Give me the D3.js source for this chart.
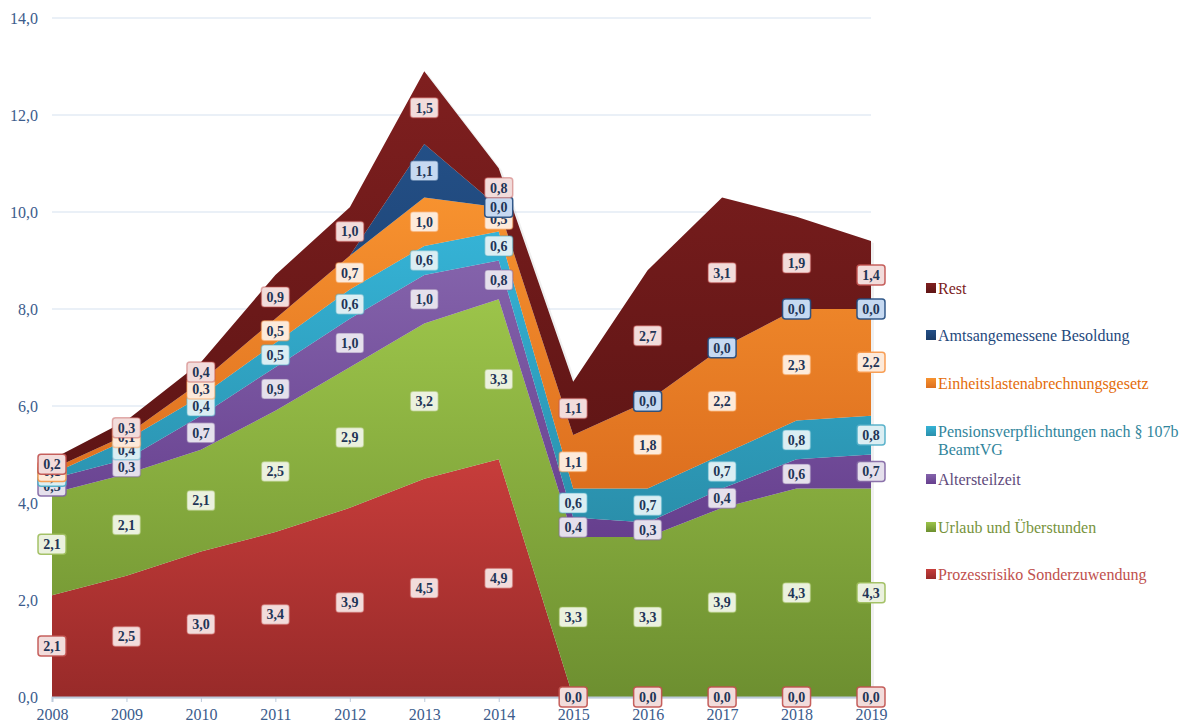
<!DOCTYPE html>
<html>
<head>
<meta charset="utf-8">
<title>Rückstellungen</title>
<script src="https://cdn.jsdelivr.net/npm/d3@7"></script>
<style>
  body { margin: 0; background: #fff; }
  svg { display: block; }
  .axis text { font: 16px "Liberation Serif", serif; fill: #3b5c8c; }
  .lbl text { font: bold 14px "Liberation Serif", serif; fill: #1f3556; }
  .legend text { font: 16px "Liberation Serif", serif; }
</style>
</head>
<body>
<svg width="1182" height="725"></svg>
<script>
var years = [2008, 2009, 2010, 2011, 2012, 2013, 2014, 2015, 2016, 2017, 2018, 2019];
var yTicks = [0, 2, 4, 6, 8, 10, 12, 14];

// values per series, bottom to top (null = no value / no label)
var prozess  = [2.1, 2.5, 3.0, 3.4, 3.9, 4.5, 4.9, 0.0, 0.0, 0.0, 0.0, 0.0];
var urlaub   = [2.1, 2.1, 2.1, 2.5, 2.9, 3.2, 3.3, 3.3, 3.3, 3.9, 4.3, 4.3];
var alters   = [0.3, 0.3, 0.7, 0.9, 1.0, 1.0, 0.8, 0.4, 0.3, 0.4, 0.6, 0.7];
var pension  = [0.1, 0.4, 0.4, 0.5, 0.6, 0.6, 0.6, 0.6, 0.7, 0.7, 0.8, 0.8];
var einheit  = [0.1, 0.1, 0.3, 0.5, 0.7, 1.0, 0.5, 1.1, 1.8, 2.2, 2.3, 2.2];
var amts     = [null, null, null, null, null, 1.1, 0.0, null, 0.0, 0.0, 0.0, 0.0];
var rest     = [0.2, 0.3, 0.4, 0.9, 1.0, 1.5, 0.8, 1.1, 2.7, 3.1, 1.9, 1.4];

var seriesNames = ["Prozessrisiko Sonderzuwendung", "Urlaub und Überstunden", "Altersteilzeit",
  "Pensionsverpflichtungen nach § 107b BeamtVG", "Einheitslastenabrechnungsgesetz",
  "Amtsangemessene Besoldung", "Rest"];
var seriesValues = [prozess, urlaub, alters, pension, einheit, amts, rest];

var colors = [
  {top: "#c73d3b", bot: "#982a29", tint: "#f2dcdb", edge: "#c0504d", text: "#c0504d"},
  {top: "#9cc44a", bot: "#6d8f30", tint: "#ebf1de", edge: "#9bbb59", text: "#77933c"},
  {top: "#8463ab", bot: "#663f8e", tint: "#e5e0ec", edge: "#8064a2", text: "#604a7b"},
  {top: "#35b3d6", bot: "#2a8fab", tint: "#dbeef3", edge: "#4bacc6", text: "#31859c"},
  {top: "#f7922f", bot: "#dd6f1f", tint: "#fdeada", edge: "#f79646", text: "#e46c0a"},
  {top: "#234f86", bot: "#1a3c68", tint: "#c6d9f1", edge: "#1f497d", text: "#1f497d"},
  {top: "#7f1f1f", bot: "#5e1515", tint: "#f2dcdb", edge: "#c0504d", text: "#7b1c1c"}
];

var svg = d3.select("svg");

var x = d3.scaleLinear().domain([2008, 2019]).range([52, 871]);
var y = d3.scaleLinear().domain([0, 14]).range([697, 18]);

var table = years.map(function(yr, i) {
  var row = {year: yr};
  seriesNames.forEach(function(n, k) { row[n] = seriesValues[k][i]; });
  return row;
});

var stacked = d3.stack()
  .keys(seriesNames)
  .value(function(d, key) { return d[key] || 0; })(table);

// gradients
var defs = svg.append("defs");
colors.forEach(function(c, k) {
  var g = defs.append("linearGradient").attr("id", "grad" + k)
    .attr("x1", 0).attr("y1", 0).attr("x2", 0).attr("y2", 1);
  g.append("stop").attr("offset", "0%").attr("stop-color", c.top);
  g.append("stop").attr("offset", "100%").attr("stop-color", c.bot);
});

// gridlines
svg.append("g")
  .selectAll("line")
  .data(yTicks.slice(1))
  .enter().append("line")
    .attr("x1", 52).attr("x2", 871)
    .attr("y1", function(d) { return y(d); })
    .attr("y2", function(d) { return y(d); })
    .attr("stroke", "#d6e2f0")
    .attr("stroke-width", 1.2);

var area = d3.area()
  .x(function(d) { return x(d.data.year); })
  .y0(function(d) { return y(d[0]); })
  .y1(function(d) { return y(d[1]); });

// faint shadow
svg.append("g")
  .selectAll("path")
  .data(stacked)
  .enter().append("path")
    .attr("d", area)
    .attr("transform", "translate(3,2)")
    .attr("fill", "#000")
    .attr("opacity", 0.06);

svg.append("g")
  .selectAll("path")
  .data(stacked)
  .enter().append("path")
    .attr("d", area)
    .attr("fill", function(d, k) { return "url(#grad" + k + ")"; });

// x axis
var xAxis = svg.append("g")
  .attr("class", "axis")
  .attr("transform", "translate(0," + y(0) + ")")
  .call(d3.axisBottom(x).tickValues(years).tickFormat(d3.format("d")).tickSize(5).tickPadding(7));
xAxis.select(".domain").attr("stroke", "#bccadb").attr("stroke-width", 2);
xAxis.selectAll(".tick line").attr("stroke", "#bccadb");

// y axis
var fmt = function(d) { return d3.format(".1f")(d).replace(".", ","); };
var yAxis = svg.append("g")
  .attr("class", "axis")
  .attr("transform", "translate(40,0)")
  .call(d3.axisLeft(y).tickValues(yTicks).tickFormat(fmt).tickSize(0).tickPadding(2));
yAxis.select(".domain").remove();

// labels
var lbl = svg.append("g").attr("class", "lbl");
stacked.forEach(function(s, k) {
  s.forEach(function(d, i) {
    var v = seriesValues[k][i];
    if (v === null) return;
    var cy = y((d[0] + d[1]) / 2);
    var cx = x(d.data.year);
    var strong = (i === 0 || i === years.length - 1 || v === 0);
    var g = lbl.append("g").attr("transform", "translate(" + cx + "," + cy + ")");
    g.append("rect")
      .attr("x", -14).attr("y", -10).attr("width", 28).attr("height", 20)
      .attr("rx", 3)
      .attr("fill", colors[k].tint)
      .attr("stroke", colors[k].edge)
      .attr("stroke-opacity", strong ? 0.9 : 0.45)
      .attr("stroke-width", 1.5);
    g.append("text")
      .attr("text-anchor", "middle")
      .attr("dy", "0.35em")
      .text(fmt(v));
  });
});

// legend
var legendRows = [
  {k: 6, y: 288, lines: ["Rest"]},
  {k: 5, y: 335, lines: ["Amtsangemessene Besoldung"]},
  {k: 4, y: 383, lines: ["Einheitslastenabrechnungsgesetz"]},
  {k: 3, y: 431, lines: ["Pensionsverpflichtungen nach § 107b", "BeamtVG"]},
  {k: 2, y: 479, lines: ["Altersteilzeit"]},
  {k: 1, y: 527, lines: ["Urlaub und Überstunden"]},
  {k: 0, y: 574, lines: ["Prozessrisiko Sonderzuwendung"]}
];
var legend = svg.append("g").attr("class", "legend")
  .selectAll("g")
  .data(legendRows)
  .enter().append("g")
    .attr("transform", function(d) { return "translate(926," + d.y + ")"; });
legend.append("rect")
  .attr("x", 0).attr("y", -5).attr("width", 10).attr("height", 10)
  .attr("fill", function(d) { return "url(#grad" + d.k + ")"; });
legend.each(function(d) {
  var t = d3.select(this).append("text")
    .attr("fill", colors[d.k].text);
  d.lines.forEach(function(line, j) {
    t.append("tspan").attr("x", 12).attr("y", j * 18).attr("dy", "0.35em").text(line);
  });
});
</script>
</body>
</html>
